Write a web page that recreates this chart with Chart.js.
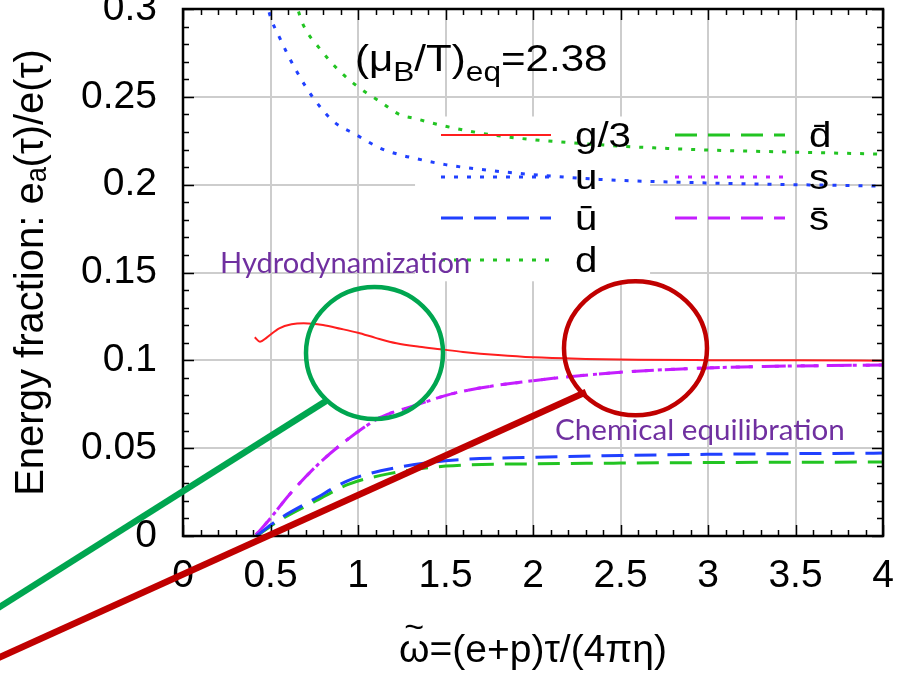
<!DOCTYPE html>
<html>
<head>
<meta charset="utf-8">
<script src="https://cdn.jsdelivr.net/npm/chart.js@4.4.1/dist/chart.umd.min.js"></script>
<style>
  html, body { margin: 0; padding: 0; background: #fff; }
  canvas { display: block; }
</style>
</head>
<body>
<canvas id="fractionChart" width="910" height="673"></canvas>
<script>
// ---- data (omega~, energy fraction) ----
const gluonX = [0.41, 0.44, 0.48, 0.55, 0.62, 0.69, 0.8, 0.9, 1.0, 1.1, 1.22, 1.35, 1.47, 1.6, 1.8, 2.0, 2.3, 2.6, 3.0, 3.5, 4.0];
const gluonY = [0.1131, 0.1106, 0.1131, 0.1182, 0.1205, 0.1211, 0.1201, 0.1180, 0.1157, 0.1128, 0.1097, 0.1077, 0.1063, 0.1048, 0.1030, 0.1017, 0.1008, 0.1003, 0.1001, 0.1000, 0.0998];

const antiX = [0.42, 0.55, 0.75, 0.94, 1.13, 1.5, 2.0, 2.5, 3.0, 3.5, 4.0];
const uBarY = [0, 0.0097, 0.0210, 0.0314, 0.0371, 0.0428, 0.0448, 0.0458, 0.0465, 0.0469, 0.0472];
const dBarY = [0, 0.0088, 0.0195, 0.0292, 0.0345, 0.0398, 0.0411, 0.0415, 0.0418, 0.0420, 0.0421];

const strangeX = [0.417, 0.488, 0.611, 0.783, 0.954, 1.126, 1.316, 1.563, 1.983, 2.5, 3.0, 3.5, 4.0];
const strangeY = [0.0007, 0.0087, 0.0239, 0.0418, 0.0560, 0.0674, 0.0740, 0.0816, 0.0882, 0.0932, 0.0957, 0.0968, 0.0973];

const upX = [0.45, 0.49, 0.554, 0.65, 0.745, 0.86, 0.99, 1.126, 1.24, 1.32, 1.5, 1.81, 2.38, 2.95, 3.5, 4.0];
const upY = [0.32, 0.299, 0.2833, 0.2644, 0.2493, 0.2360, 0.2284, 0.2208, 0.2170, 0.2151, 0.2114, 0.2075, 0.2030, 0.2011, 0.2000, 0.1992];

const downX = [0.6, 0.66, 0.687, 0.78, 0.897, 1.011, 1.126, 1.24, 1.316, 1.507, 1.79, 2.38, 2.95, 3.5, 4.0];
const downY = [0.32, 0.2986, 0.2909, 0.2776, 0.2644, 0.2549, 0.2473, 0.2398, 0.2379, 0.2331, 0.2280, 0.2227, 0.2199, 0.2185, 0.2174];

const xTicks = [0, 0.5, 1, 1.5, 2, 2.5, 3, 3.5, 4];
const yTicks = [0, 0.05, 0.1, 0.15, 0.2, 0.25, 0.3];

const COLORS = {
    red: '#ff1e1e',
    blue: '#2040ff',
    green: '#22c422',
    magenta: '#c41eff',
    purple: '#7030a0',
    annGreen: '#00a650',
    annRed: '#c00000'
};

const DOTTED = [4, 9];
const DASHED = [22, 11];

const FONT = '"Liberation Sans", Arial, sans-serif';

function pts(xs, ys) {
    return xs.map((x, i) => ({ x: x, y: ys[i] }));
}

function series(label, xs, ys, color, dash, width) {
    return {
        label: label,
        data: pts(xs, ys),
        borderColor: color,
        backgroundColor: color,
        borderDash: dash,
        borderWidth: width,
        pointRadius: 0,
        cubicInterpolationMode: 'monotone',
        fill: false
    };
}

const datasets = [
    series('g/3', gluonX, gluonY, COLORS.red, [], 2),
    series('\u016b', antiX, uBarY, COLORS.blue, DASHED, 3),
    series('d\u0304', antiX, dBarY, COLORS.green, DASHED, 3),
    series('s', strangeX, strangeY, COLORS.magenta, DOTTED, 3),
    series('s\u0304', strangeX, strangeY, COLORS.magenta, DASHED, 3),
    series('u', upX, upY, COLORS.blue, DOTTED, 3),
    series('d', downX, downY, COLORS.green, DOTTED, 3)
];

// gnuplot style key: [dataset index, column, row]
const keyLayout = [[0, 0, 0], [5, 0, 1], [1, 0, 2], [6, 0, 3], [2, 1, 0], [3, 1, 1], [4, 1, 2]];

function fmt(v) {
    return String(parseFloat(v.toFixed(2)));
}

// white key background, drawn over the grid but under the curves
const keyBoxPlugin = {
    id: 'keyBox',
    beforeDatasetsDraw(chart) {
        const { ctx, scales: { x, y } } = chart;
        const x0 = x.getPixelForValue(1.326), x1 = x.getPixelForValue(2.669);
        const y0 = y.getPixelForValue(0.2388), y1 = y.getPixelForValue(0.145);
        ctx.save();
        ctx.fillStyle = '#fff';
        ctx.fillRect(x0, y0, x1 - x0, y1 - y0);
        ctx.restore();
    }
};

function drawRich(ctx, parts, x, y, size, subSize, subDrop, stretch) {
    ctx.save();
    ctx.translate(x, y);
    ctx.scale(stretch, 1);
    let cx = 0;
    parts.forEach(p => {
        ctx.font = (p.sub ? subSize : size) + 'px ' + FONT;
        ctx.fillText(p.t, cx, p.sub ? subDrop : 0);
        cx += ctx.measureText(p.t).width;
    });
    ctx.restore();
}

// border box, inward ticks, key, plot label and x title
const framePlugin = {
    id: 'frame',
    afterDatasetsDraw(chart) {
        const { ctx, chartArea: a, scales: { x, y } } = chart;
        ctx.save();
        ctx.strokeStyle = '#000';
        ctx.lineWidth = 1.5;
        ctx.beginPath();
        for (let i = 0; i <= 40; i++) {
            const px = Math.round(x.getPixelForValue(i / 10)) + 0.5;
            const len = i % 5 === 0 ? 11 : 6;
            ctx.moveTo(px, a.bottom); ctx.lineTo(px, a.bottom - len);
            ctx.moveTo(px, a.top); ctx.lineTo(px, a.top + len);
        }
        for (let j = 0; j <= 30; j++) {
            const py = Math.round(y.getPixelForValue(j / 100)) + 0.5;
            const len = j % 5 === 0 ? 11 : 6;
            ctx.moveTo(a.left, py); ctx.lineTo(a.left + len, py);
            ctx.moveTo(a.right, py); ctx.lineTo(a.right - len, py);
        }
        ctx.stroke();
        ctx.lineWidth = 2.5;
        ctx.strokeRect(a.left, a.top, a.right - a.left, a.bottom - a.top);

        // key
        const colX = [a.left + 258, a.left + 492];
        const rowY = [135, 177, 218, 260];
        keyLayout.forEach(([di, col, row]) => {
            const ds = chart.data.datasets[di];
            const sx = colX[col], sy = rowY[row];
            ctx.strokeStyle = ds.borderColor;
            ctx.lineWidth = ds.borderWidth;
            ctx.setLineDash(ds.borderDash);
            ctx.beginPath();
            ctx.moveTo(sx, sy);
            ctx.lineTo(sx + 110, sy);
            ctx.stroke();
            ctx.setLineDash([]);
            ctx.fillStyle = '#000';
            ctx.font = '35px ' + FONT;
            ctx.textBaseline = 'alphabetic';
            ctx.save();
            ctx.translate(sx + 134, sy + 12);
            ctx.scale(1.15, 1);
            ctx.fillText(ds.label, 0, 0);
            ctx.restore();
        });

        // (mu_B/T)_eq label
        ctx.fillStyle = '#000';
        ctx.textBaseline = 'alphabetic';
        drawRich(ctx, [
            { t: '(\u03bc' }, { t: 'B', sub: true }, { t: '/T)' },
            { t: 'eq', sub: true }, { t: '=2.38' }
        ], 355, 71, 36, 27, 10, 1.17);

        // x axis title, tilde placed over omega by hand
        const title = '\u03c9=(e+p)\u03c4/(4\u03c0\u03b7)';
        ctx.font = '39px ' + FONT;
        const tw = ctx.measureText(title).width;
        const ow = ctx.measureText('\u03c9').width;
        const tx = (a.left + a.right) / 2 - tw / 2;
        ctx.fillText(title, tx, 662);
        ctx.font = '34px ' + FONT;
        ctx.textAlign = 'center';
        ctx.fillText('~', tx + ow / 2, 638);
        ctx.restore();
    }
};

function fitText(ctx, text, family, width) {
    ctx.font = '30px ' + family;
    const w = ctx.measureText(text).width;
    ctx.font = (30 * width / w).toFixed(1) + 'px ' + family;
}

// slide annotations: circles, pointer lines, purple captions
const annotationPlugin = {
    id: 'slideNotes',
    afterDraw(chart) {
        const { ctx } = chart;
        ctx.save();
        ctx.lineCap = 'butt';

        ctx.strokeStyle = COLORS.annGreen;
        ctx.lineWidth = 4.5;
        ctx.beginPath();
        ctx.ellipse(374.5, 353, 68.5, 66, 0, 0, Math.PI * 2);
        ctx.stroke();
        ctx.lineWidth = 6.5;
        ctx.beginPath();
        ctx.moveTo(-2, 608); ctx.lineTo(326, 401);
        ctx.stroke();

        ctx.strokeStyle = COLORS.annRed;
        ctx.lineWidth = 4.5;
        ctx.beginPath();
        ctx.ellipse(635.5, 348.3, 71.5, 67, 0, 0, Math.PI * 2);
        ctx.stroke();
        ctx.lineWidth = 6.5;
        ctx.beginPath();
        ctx.moveTo(-2, 658); ctx.lineTo(586, 392);
        ctx.stroke();

        ctx.fillStyle = COLORS.purple;
        ctx.textBaseline = 'alphabetic';
        fitText(ctx, 'Hydrodynamization', 'Lato, "Open Sans", sans-serif', 250);
        ctx.fillText('Hydrodynamization', 220, 273);
        fitText(ctx, 'Chemical equilibration', 'Lato, "Open Sans", sans-serif', 290);
        ctx.fillText('Chemical equilibration', 555, 440);
        ctx.restore();
    }
};

const ctx = document.getElementById('fractionChart').getContext('2d');
const chart = new Chart(ctx, {
    type: 'line',
    data: { datasets: datasets },
    options: {
        responsive: false,
        animation: false,
        events: [],
        layout: { padding: { top: 9, right: 27, left: 0, bottom: 0 } },
        plugins: {
            legend: { display: false },
            tooltip: { enabled: false }
        },
        scales: {
            x: {
                type: 'linear',
                min: 0,
                max: 4,
                afterBuildTicks: s => { s.ticks = xTicks.map(v => ({ value: v })); },
                afterFit: s => {
                    s.height = 137;
                    s.paddingLeft = 0; s.paddingRight = 0;
                },
                ticks: {
                    color: '#000',
                    padding: 17,
                    maxRotation: 0,
                    font: { family: FONT, size: 39 },
                    callback: v => fmt(v)
                },
                grid: { color: '#cdcdcd', lineWidth: 2, drawTicks: false },
                border: { display: false },
                title: { display: false }
            },
            y: {
                type: 'linear',
                min: 0,
                max: 0.3,
                afterBuildTicks: s => { s.ticks = yTicks.map(v => ({ value: v })); },
                afterFit: s => {
                    s.width = 183;
                    s.paddingTop = 0; s.paddingBottom = 0;
                },
                ticks: {
                    color: '#000',
                    padding: 26,
                    font: { family: FONT, size: 39 },
                    callback: v => fmt(v)
                },
                grid: { color: '#cdcdcd', lineWidth: 2, drawTicks: false },
                border: { display: false },
                title: {
                    display: true,
                    text: 'Energy fraction: e\u2090(\u03c4)/e(\u03c4)',
                    color: '#000',
                    font: { family: FONT, size: 40 },
                    padding: { top: 8, bottom: 0 }
                }
            }
        }
    },
    plugins: [keyBoxPlugin, framePlugin, annotationPlugin]
});
</script>
</body>
</html>
